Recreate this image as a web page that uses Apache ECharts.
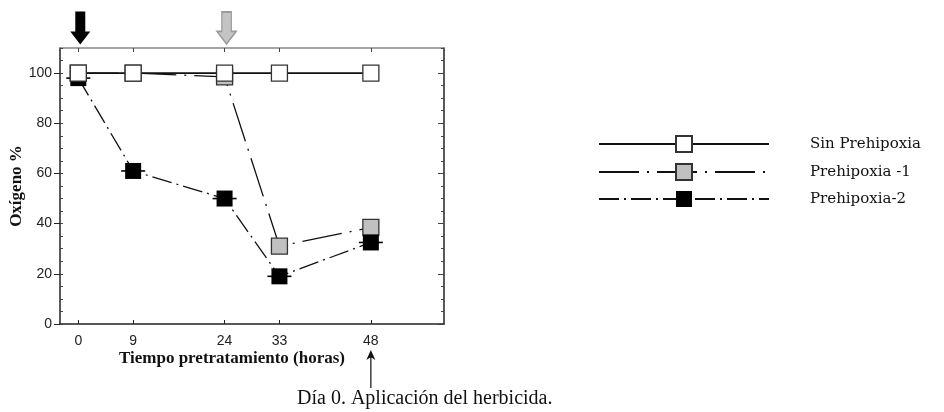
<!DOCTYPE html>
<html>
<head>
<meta charset="utf-8">
<script src="https://cdn.jsdelivr.net/npm/echarts@6/dist/echarts.min.js"></script>
<style>
html, body { margin: 0; padding: 0; background: #fff; }
#chart { width: 944px; height: 412px; }
</style>
</head>
<body>
<div id="chart"></div>
<script>
// horas de pretratamiento
var horas = [0, 9, 24, 33, 48];
var yTicks = [0, 20, 40, 60, 80, 100];
var nombres = ['Sin Prehipoxia', 'Prehipoxia -1', 'Prehipoxia-2'];
// oxigeno %
var sinPrehipoxia = [100, 100, 100, 100, 100];
var prehipoxia1 = [100, 100, 98.5, 31, 38.5];
var prehipoxia2 = [98, 61, 50, 19, 32.5];

function pares(vals) {
	var t = [];
	for (var i = 0; i < horas.length; i++) {
		t.push([horas[i], vals[i]]);
	}
	return t;
}

var serif = 'Liberation Serif';
var sans = 'Liberation Sans';

var myChart = echarts.init(document.getElementById('chart'));

var option = {
	backgroundColor: '#fff',
	animation: false,
	grid: { left: 60, top: 48, width: 384, height: 276, containLabel: false },
	legend: {
		left: 598,
		top: 135,
		padding: 0,
		orient: 'vertical',
		itemWidth: 170,
		itemHeight: 20,
		itemGap: 10,
		data: nombres,
		textStyle: { fontFamily: 'DejaVu Serif', fontSize: 15, color: '#111', padding: [0, 0, 0, 36] }
	},
	xAxis: [{
		type: 'value',
		position: 'bottom',
		min: -3,
		max: 60,
		splitLine: { show: false },
		axisLine: { onZero: false, lineStyle: { color: '#222', width: 1.5 } },
		axisTick: { inside: true, length: 4, customValues: horas, lineStyle: { color: '#222' } },
		axisLabel: { customValues: horas, margin: 10, fontFamily: sans, fontSize: 14, color: '#222' }
	}, {
		type: 'value',
		position: 'top',
		min: -3,
		max: 60,
		splitLine: { show: false },
		axisLine: { onZero: false, lineStyle: { color: '#888', width: 1.5 } },
		axisTick: { inside: true, length: 4, customValues: horas, lineStyle: { color: '#444' } },
		axisLabel: { show: false }
	}],
	yAxis: [{
		type: 'value',
		position: 'left',
		min: 0,
		max: 110,
		name: 'Oxígeno %',
		nameLocation: 'middle',
		nameGap: 32,
		nameTextStyle: { fontFamily: serif, fontSize: 17, fontWeight: 'bold', color: '#111' },
		splitLine: { show: false },
		axisLine: { onZero: false, lineStyle: { color: '#222', width: 1.5 } },
		axisTick: { inside: false, length: 6, customValues: yTicks, lineStyle: { color: '#222' } },
		axisLabel: { customValues: yTicks, margin: 8, fontFamily: sans, fontSize: 14, color: '#222' }
	}, {
		type: 'value',
		position: 'left',
		min: 0,
		max: 110,
		interval: 5,
		splitLine: { show: false },
		axisLine: { show: false, onZero: false },
		axisTick: { inside: true, length: 3, lineStyle: { color: '#444' } },
		axisLabel: { show: false }
	}, {
		type: 'value',
		position: 'right',
		min: 0,
		max: 110,
		splitLine: { show: false },
		axisLine: { onZero: false, lineStyle: { color: '#222', width: 1.5 } },
		axisTick: { inside: true, length: 6, customValues: yTicks, lineStyle: { color: '#444' } },
		axisLabel: { show: false }
	}, {
		type: 'value',
		position: 'right',
		min: 0,
		max: 110,
		interval: 5,
		splitLine: { show: false },
		axisLine: { show: false, onZero: false },
		axisTick: { inside: true, length: 3, lineStyle: { color: '#444' } },
		axisLabel: { show: false }
	}],
	series: [{
		name: nombres[0],
		type: 'line',
		z: 5,
		data: pares(sinPrehipoxia),
		symbol: 'rect',
		symbolSize: 16,
		itemStyle: { color: '#fff', borderColor: '#333', borderWidth: 1.3 },
		lineStyle: { color: '#111', width: 1.6, type: 'solid' },
		markPoint: {
			silent: true,
			label: { show: false },
			data: [{
				coord: [0, 110],
				symbol: 'path://M5,0 H15 V20 H20 L10,33 L0,20 H5 Z',
				symbolSize: [20, 33],
				symbolOffset: [2, -20],
				itemStyle: { color: '#000' }
			}, {
				coord: [24, 110],
				symbol: 'path://M5,0 H15 V20 H20 L10,33 L0,20 H5 Z',
				symbolSize: [19, 32],
				symbolOffset: [2, -20],
				itemStyle: { color: '#c4c4c4', borderColor: '#999', borderWidth: 1.5 }
			}, {
				coord: [48, 0],
				symbol: 'path://M4.5,0 L9,10 L5.1,7.5 L5.1,38 L3.9,38 L3.9,7.5 L0,10 Z',
				symbolSize: [9, 38],
				symbolOffset: [0, 45],
				itemStyle: { color: '#111' }
			}]
		}
	}, {
		name: nombres[1],
		type: 'line',
		z: 3,
		data: pares(prehipoxia1),
		symbol: 'rect',
		symbolSize: 16,
		itemStyle: { color: '#c0c0c0', borderColor: '#333', borderWidth: 1.3 },
		lineStyle: { color: '#111', width: 1.3, type: [40, 8, 2, 8] }
	}, {
		name: nombres[2],
		type: 'line',
		z: 4,
		data: pares(prehipoxia2),
		symbol: 'rect',
		symbolSize: 16,
		itemStyle: { color: '#000' },
		lineStyle: { color: '#111', width: 1.3, type: [20, 5, 2, 5] }
	}, {
		// barras horizontales de los cuadrados negros
		name: 'barras',
		type: 'line',
		z: 4,
		silent: true,
		data: pares(prehipoxia2),
		symbol: 'rect',
		symbolSize: [24, 1.6],
		itemStyle: { color: '#000' },
		lineStyle: { width: 0, opacity: 0 }
	}],
	graphic: [{
		type: 'text',
		left: 119,
		top: 350,
		style: { text: 'Tiempo pretratamiento (horas)', font: 'bold 17px ' + serif, fill: '#111' }
	}, {
		type: 'text',
		left: 297,
		top: 389,
		style: { text: 'Día 0. Aplicación del herbicida.', font: '20px ' + serif, fill: '#111' }
	}]
};
myChart.setOption(option);
window.addEventListener('resize', function () {
	myChart.resize();
});
</script>
</body>
</html>
